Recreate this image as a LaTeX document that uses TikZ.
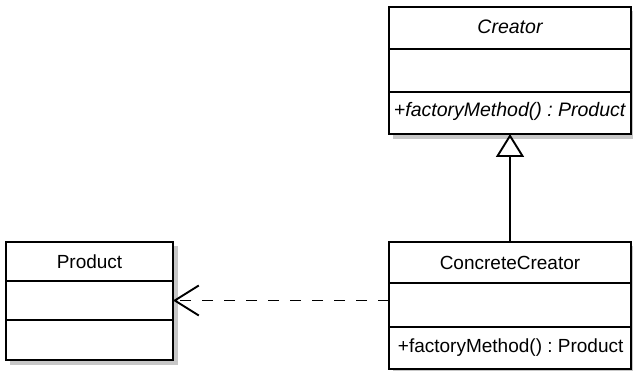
\documentclass[tikz,border=0pt]{standalone}
\usepackage{fontspec}
\setmainfont{Liberation Sans}
\usetikzlibrary{arrows.meta}
\frenchspacing
\begin{document}
\begin{tikzpicture}[x=1pt,y=-1pt,
  line width=1.9pt,
  comp/.style={draw=black, fill=white, line width=1.9pt, anchor=north west, inner sep=0pt, outer sep=0pt},
  shadowbox/.style={fill=black!22, draw=none},
  lbl/.style={inner sep=0pt, font=\fontsize{19}{21}\selectfont},
  ilbl/.style={inner sep=0pt, font=\fontsize{19.5}{21}\selectfont\itshape},
  inherit/.style={-{Triangle[open, length=23pt, width=28pt, line width=1.9pt]}},
  depend/.style={dash pattern=on 11.5pt off 10.5pt, -{Straight Barb[length=24pt, width=30pt, line width=1.9pt]}}
]
\useasboundingbox (0,0) rectangle (633,371);
% shadows
\fill[shadowbox] (393,11) rectangle (636,139);
\fill[shadowbox] (393,246) rectangle (636,374);
\fill[shadowbox] (10,246) rectangle (178,365);
% Creator
\node[comp, minimum width=242pt, minimum height=42pt] (crH) at (389,7) {};
\node[comp, minimum width=242pt, minimum height=43pt] (crA) at (389,49) {};
\node[comp, minimum width=242pt, minimum height=42pt] (crM) at (389,92) {};
\node[ilbl] (crHt) at ([yshift=1pt]crH.center) {Creator};
\node[ilbl, anchor=west] (crMt) at ([xshift=4pt,yshift=1.5pt]crM.west) {+factoryMethod() : Product};
% ConcreteCreator
\node[comp, minimum width=242pt, minimum height=41pt] (ccH) at (389,242) {};
\node[comp, minimum width=242pt, minimum height=44pt] (ccA) at (389,283) {};
\node[comp, minimum width=242pt, minimum height=42pt] (ccM) at (389,327) {};
\node[lbl] (ccHt) at (ccH.center) {ConcreteCreator};
\node[lbl, anchor=west] (ccMt) at ([xshift=8pt]ccM.west) {+factoryMethod() : Product};
% Product
\node[comp, minimum width=167pt, minimum height=39pt] (prH) at (6,242) {};
\node[comp, minimum width=167pt, minimum height=39pt] (prA) at (6,281) {};
\node[comp, minimum width=167pt, minimum height=40pt] (prM) at (6,320) {};
\node[lbl] (prHt) at (prH.center) {Product};
% connectors
\draw[inherit] (ccH.north) -- (crM.south);
\coordinate (dstart) at (ccA.west |- prA.east);
\draw[depend] (dstart) -- (prA.east);
\end{tikzpicture}
\end{document}
